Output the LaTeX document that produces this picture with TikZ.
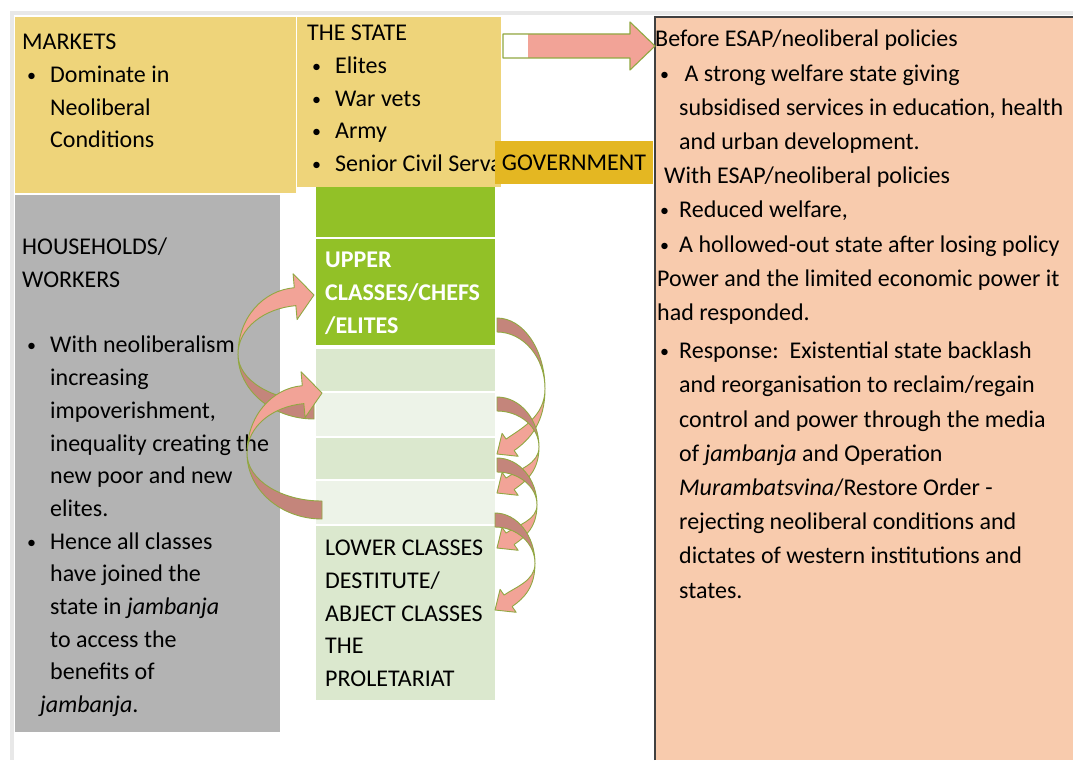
\documentclass[tikz,border=0pt]{standalone}
\usepackage{fontspec}
\setmainfont{Carlito}
\usetikzlibrary{calc}

\definecolor{marketyellow}{RGB}{238,212,122}
\definecolor{govgold}{RGB}{228,183,34}
\definecolor{classgreen}{RGB}{146,193,39}
\definecolor{palegreen}{RGB}{219,232,206}
\definecolor{palergreen}{RGB}{237,243,232}
\definecolor{workgray}{RGB}{179,179,179}
\definecolor{peach}{RGB}{248,203,173}
\definecolor{salmon}{RGB}{242,163,151}
\definecolor{darksalmon}{RGB}{196,133,123}
\definecolor{olive}{RGB}{145,168,66}
\definecolor{framegray}{RGB}{232,232,232}
\definecolor{edgegray}{RGB}{64,64,64}

% bullets for the left boxes and for the policy box
\newcommand{\bulletdot}{\raisebox{1pt}{\scalebox{0.75}{\textbullet}}}
\newcommand{\itm}{\hspace*{5pt}\makebox[23pt][l]{\bulletdot}}
\newcommand{\ind}{\hspace*{28pt}}
\newcommand{\pitm}{\hspace*{5pt}\makebox[19pt][l]{\bulletdot}}
\newcommand{\pind}{\hspace*{24pt}}

% head of the ribbon arrows, set before each group
\def\bandw{13}
\def\headw{14}
\def\headl{16}
\def\headtilt{35}

% curved ribbon arrow: tail at (#1,#2), tip #3 further along, bend #4 out
\newcommand{\ribbon}[5]{%
  \begin{scope}[shift={(#1,#2)},#5]
    \pgfmathsetmacro\ribM{0.52*#3}
    \pgfmathsetmacro\ribBx{\headl*cos(\headtilt)}
    \pgfmathsetmacro\ribBy{#3-\headl*sin(\headtilt)}
    \pgfmathsetmacro\ribNx{sin(\headtilt)}
    \pgfmathsetmacro\ribNy{cos(\headtilt)}
    \pgfmathsetmacro\ribDx{cos(\headtilt)}
    \pgfmathsetmacro\ribDy{-sin(\headtilt)}
    \pgfmathsetmacro\ribK{0.55*(#4-\ribBx)}
    % back half, tail to bend
    \filldraw[ribbonback] (0,0) .. controls (0.55*#4,0) and (#4,0.45*\ribM) .. (#4,\ribM)
      .. controls (#4,{\bandw+0.45*(\ribM-\bandw)}) and (0.55*#4,\bandw) .. (0,\bandw) -- cycle;
    % front half with the head
    \filldraw[ribbonfront] (#4,\ribM)
      .. controls (#4,{\ribM+0.55*(\ribBy+0.5*\bandw*\ribNy-\ribM)})
         and ({\ribBx+0.5*\bandw*\ribNx+\ribK*\ribDx},{\ribBy+0.5*\bandw*\ribNy+\ribK*\ribDy})
      .. ({\ribBx+0.5*\bandw*\ribNx},{\ribBy+0.5*\bandw*\ribNy})
      -- ({\ribBx+\headw*\ribNx},{\ribBy+\headw*\ribNy}) -- (0,#3)
      -- ({\ribBx-\headw*\ribNx},{\ribBy-\headw*\ribNy})
      -- ({\ribBx-0.5*\bandw*\ribNx},{\ribBy-0.5*\bandw*\ribNy})
      .. controls ({\ribBx-0.5*\bandw*\ribNx+\ribK*\ribDx},{\ribBy-0.5*\bandw*\ribNy+\ribK*\ribDy})
         and (#4,{\ribM+0.55*(\ribBy-0.5*\bandw*\ribNy-\ribM)})
      .. (#4,\ribM) -- cycle;
  \end{scope}}

\tikzset{
  boxtext/.style={anchor=north west, inner sep=0pt, align=left,
    font=\fontsize{24}{32.7}\selectfont, execute at begin node=\rule{0pt}{18pt}},
  ribbonback/.style={fill=darksalmon, draw=olive, line width=0.9pt, line join=round},
  ribbonfront/.style={fill=salmon, draw=olive, line width=0.9pt, line join=round}
}

\begin{document}
\begin{tikzpicture}[x=1pt, y=-1pt]

  \fill[white] (0,0) rectangle (1073,760);
  \useasboundingbox (0,0) rectangle (1073,760);
  \draw[framegray, line width=4pt] (12,760) -- (12,13) -- (1073,13);

  % policy box on the right
  \fill[peach] (655,17) rectangle (1073,760);
  \draw[edgegray, line width=1.3pt] (655,760) -- (655,17) -- (1073,17);

  % markets, state, households
  \fill[marketyellow] (15,17) rectangle (296,193);
  \fill[marketyellow] (297,17) rectangle (501,187);
  \fill[workgray] (15,195) rectangle (280,732);

  % class column
  \fill[classgreen] (316,187) rectangle (495,237);
  \fill[classgreen] (316,239) rectangle (495,345);
  \fill[palegreen] (316,349) rectangle (495,391);
  \fill[palergreen] (316,393) rectangle (495,436);
  \fill[palegreen] (316,438) rectangle (495,479);
  \fill[palergreen] (316,481) rectangle (495,524);
  \fill[palegreen] (316,526) rectangle (495,700);

  \node[boxtext] (markets) at (22,34) {MARKETS\\
    \itm Dominate in\\
    \ind Neoliberal\\
    \ind Conditions};

  % last line runs in under the government tab
  \begin{scope}
    \clip (297,17) rectangle (495,187);
    \node[boxtext] (state) at (307,25) {THE STATE\\
      \itm Elites\\
      \itm War vets\\
      \itm Army\\
      \itm Senior Civil Serva};
  \end{scope}

  \node[fill=govgold, minimum width=158pt, minimum height=43pt, inner sep=0pt,
    font=\fontsize{24}{28}\selectfont] (gov) at (574,162.5) {GOVERNMENT};

  \node[boxtext] (households) at (22,238) {HOUSEHOLDS/\\
    WORKERS\\[32.7pt]
    \itm With neoliberalism\\
    \ind increasing\\
    \ind impoverishment,\\
    \ind inequality creating the\\
    \ind new poor and new\\
    \ind elites.\\
    \itm Hence all classes\\
    \ind have joined the\\
    \ind state in \textit{jambanja}\\
    \ind to access the\\
    \ind benefits of\\
    \hspace*{18pt}\textit{jambanja}.};

  \node[boxtext, text=white, font=\fontsize{24}{32.7}\selectfont\bfseries] (upper) at (325,252)
    {UPPER\\CLASSES/CHEFS\\/ELITES};

  \node[boxtext] (lower) at (325,540) {LOWER CLASSES\\
    DESTITUTE/\\
    ABJECT CLASSES\\
    THE\\
    PROLETARIAT};

  % ribbons on the left, pointing up into the column
  \def\bandw{18}
  \def\headw{23}
  \def\headl{19}
  \def\headtilt{5}
  \ribbon{314}{419}{124}{76}{rotate=180}
  \ribbon{322}{519}{126}{75}{rotate=180}

  % ribbons on the right, stepping down the column
  \def\bandw{14}
  \def\headw{14}
  \def\headl{16}
  \def\headtilt{35}
  \ribbon{497}{318}{136}{48}{}
  \ribbon{497}{397}{96}{42}{}
  \ribbon{497}{458}{90}{40}{}
  \ribbon{495}{513}{97}{40}{}

  % block arrow from the state to the policy box
  \fill[salmon] (503,34) -- (630,34) -- (630,22) -- (655,46) -- (630,70) -- (630,58) -- (503,58) -- cycle;
  \fill[white] (503,34) rectangle (528,58);
  \draw[olive, line width=1.1pt, line join=round] (503,34) -- (630,34) -- (630,22) -- (655,46)
    -- (630,70) -- (630,58) -- (503,58) -- cycle;

  \node[boxtext, font=\fontsize{24}{34.2}\selectfont] (policy) at (655,30) {Before ESAP/neoliberal policies\\
    \pitm\ A strong welfare state giving\\
    \pind subsidised services in education, health\\
    \pind and urban development.\\
    \hspace*{9pt}With ESAP/neoliberal policies\\
    \pitm Reduced welfare,\\
    \pitm A hollowed-out state after losing policy\\
    \hspace*{2pt}Power and the limited economic power it\\
    \hspace*{2pt}had responded.\\[4pt]
    \pitm Response:\ \ Existential state backlash\\
    \pind and reorganisation to reclaim/regain\\
    \pind control and power through the media\\
    \pind of \textit{jambanja} and Operation\\
    \pind \textit{Murambatsvina}/Restore Order -\\
    \pind rejecting neoliberal conditions and\\
    \pind dictates of western institutions and\\
    \pind states.};

\end{tikzpicture}
\end{document}
